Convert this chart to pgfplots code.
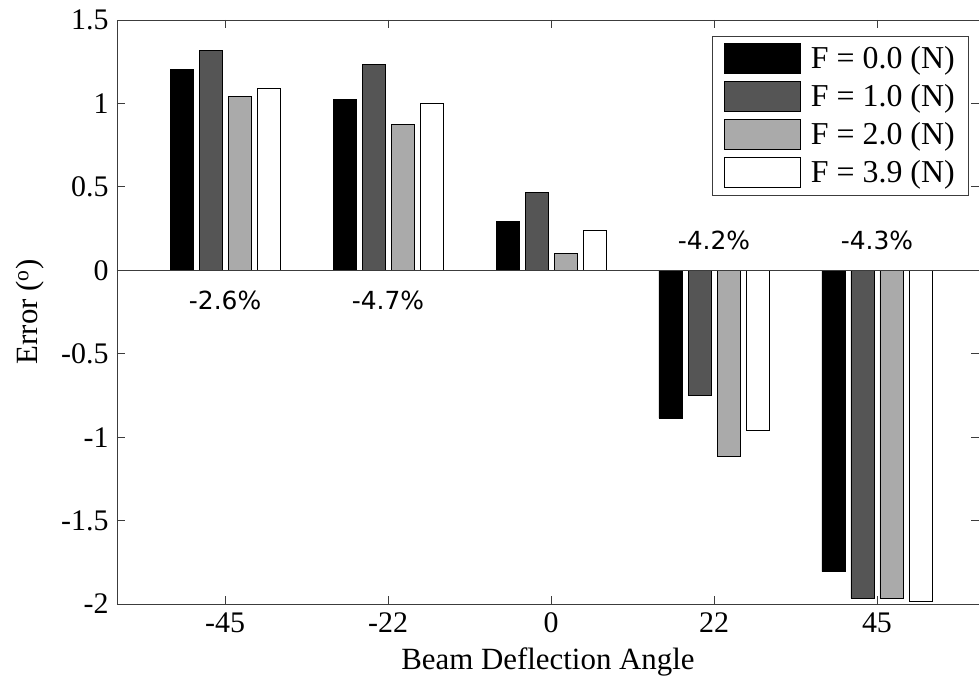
\documentclass[border=0pt]{standalone}
\usepackage{fontspec}
\setmainfont{Liberation Serif}
\newfontfamily\annfont{DejaVu Sans}
\usepackage{pgfplots}
\pgfplotsset{compat=1.18}
\definecolor{dg}{RGB}{85,85,85}
\definecolor{lg}{RGB}{170,170,170}
\definecolor{axc}{RGB}{60,60,60}
\begin{document}
\begin{tikzpicture}
\begin{axis}[
  scale only axis, width=862bp, height=584bp,
  xmin=-0.663, xmax=4.626, ymin=-2, ymax=1.5,
  ybar,
  legend image code/.code={\draw[#1, line width=0.8bp] (0bp,-15bp) rectangle (76bp,15bp); \path (84bp,0bp);},
  xtick={0,1,2,3,4}, xticklabels={-45,-22,0,22,45},
  ytick={-2,-1.5,-1,-0.5,0,0.5,1,1.5},
  yticklabels={-2,-1.5,-1,-0.5,0,0.5,1,1.5},
  tick align=inside, major tick length=8bp,
  axis line style={line width=0.8bp, draw=axc},
  tick style={line width=0.8bp, draw=axc},
  tick label style={font=\fontsize{30}{36}\selectfont},
  /pgf/number format/assume math mode=true,
  xticklabel style={yshift=-5bp},
  yticklabel style={xshift=-5bp},
  label style={font=\fontsize{31}{37}\selectfont},
  xlabel={Beam Deflection Angle},
  ylabel={Error (\textsuperscript{o})},
  xlabel style={at={(axis description cs:0.5,-0.1)}, anchor=center},
  ylabel style={at={(axis description cs:-0.101,0.5)}, anchor=center},
  legend style={at={(axis description cs:0.690,0.973)}, anchor=north west,
    draw=axc, line width=0.8bp, font=\fontsize{32}{38}\selectfont,
    inner xsep=12bp, inner ysep=7bp, row sep=7.2bp,
    nodes={inner sep=2bp}},
  legend cell align=left,
]
\addplot[bar width=0.141, bar shift=-0.267, fill=black, draw=black, line width=0.8bp]
  coordinates {(0,1.206) (1,1.025) (2,0.291) (3,-0.886) (4,-1.806)};
\addlegendentry{F = 0.0 (N)}
\addplot[bar width=0.141, bar shift=-0.089, fill=dg, draw=black, line width=0.8bp]
  coordinates {(0,1.315) (1,1.232) (2,0.465) (3,-0.747) (4,-1.966)};
\addlegendentry{F = 1.0 (N)}
\addplot[bar width=0.141, bar shift=0.089, fill=lg, draw=black, line width=0.8bp]
  coordinates {(0,1.040) (1,0.875) (2,0.102) (3,-1.116) (4,-1.968)};
\addlegendentry{F = 2.0 (N)}
\addplot[bar width=0.141, bar shift=0.267, fill=white, draw=black, line width=0.8bp]
  coordinates {(0,1.088) (1,1.000) (2,0.237) (3,-0.958) (4,-1.985)};
\addlegendentry{F = 3.9 (N)}
\draw[line width=0.8bp, axc] (axis cs:-0.663,0) -- (axis cs:4.626,0);
\node[font=\annfont\fontsize{25}{30}\selectfont] at (axis cs:0,-0.18) {-2.6\%};
\node[font=\annfont\fontsize{25}{30}\selectfont] at (axis cs:1,-0.18) {-4.7\%};
\node[font=\annfont\fontsize{25}{30}\selectfont] at (axis cs:3,0.18) {-4.2\%};
\node[font=\annfont\fontsize{25}{30}\selectfont] at (axis cs:4,0.18) {-4.3\%};
\coordinate (sw) at (rel axis cs:0,0);
\coordinate (ne) at (rel axis cs:1,1);
\end{axis}
\pgfresetboundingbox
\path ([shift={(-117bp,-84bp)}]sw) rectangle ([shift={(0bp,20bp)}]ne);
\end{tikzpicture}
\end{document}
